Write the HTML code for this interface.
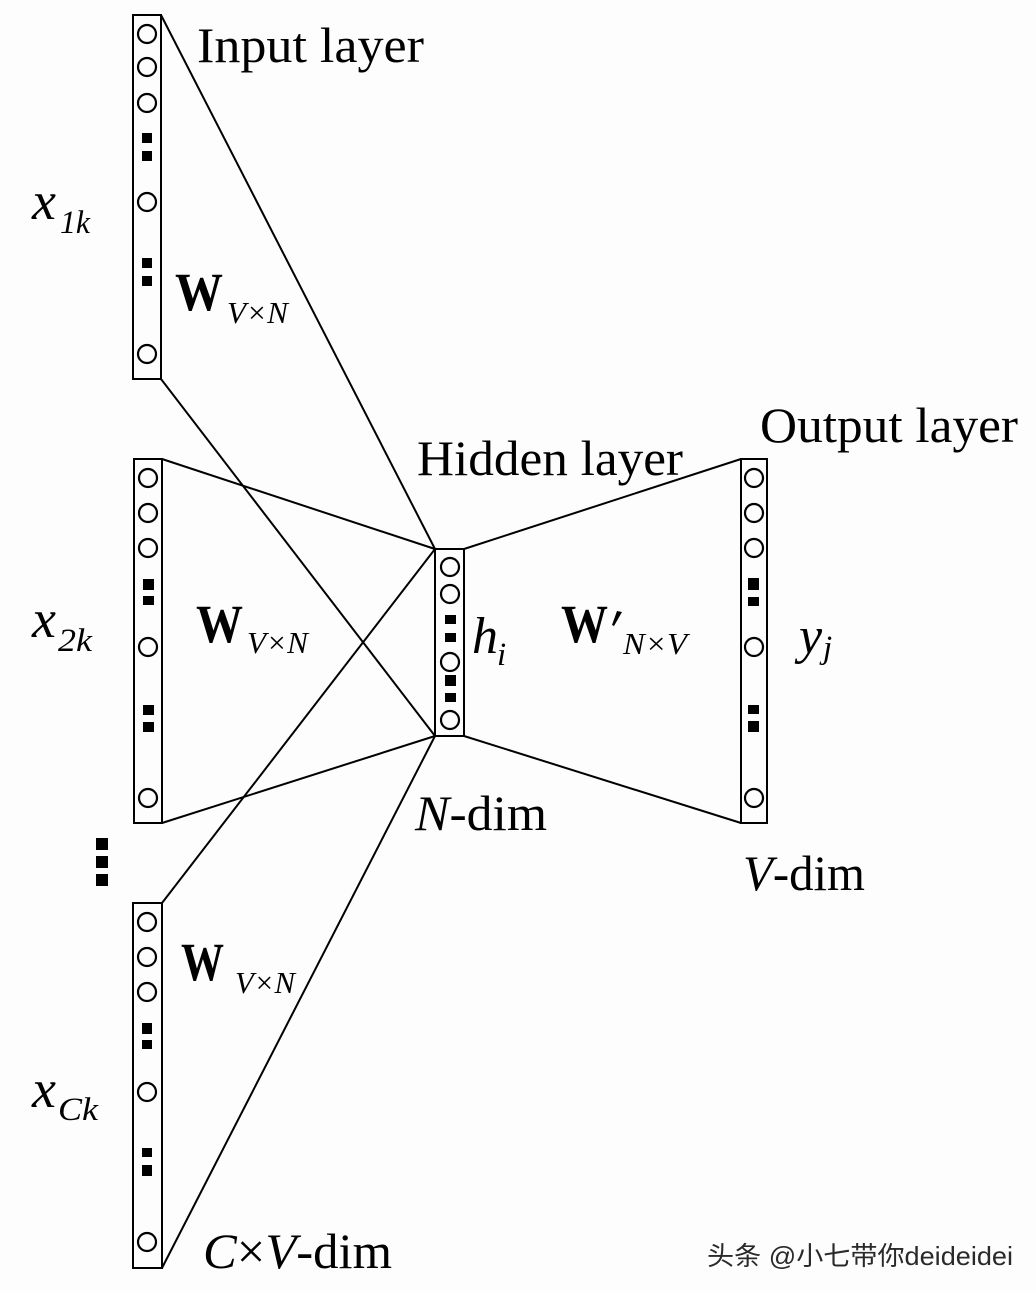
<!DOCTYPE html>
<html>
<head>
<meta charset="utf-8">
<style>
html,body{margin:0;padding:0;background:#fdfdfd;}
svg{display:block;}
.t{font-family:"Liberation Serif",serif;fill:#000;}
.i{font-style:italic;}
.b{font-weight:bold;}
</style>
</head>
<body>
<svg width="1036" height="1292" viewBox="0 0 1036 1292" xmlns="http://www.w3.org/2000/svg">
<rect x="0" y="0" width="1036" height="1292" fill="#fdfdfd"/>
<g stroke="#000" stroke-width="2" fill="none">
  <rect x="133" y="15" width="28" height="364"/>
  <rect x="134" y="459" width="28" height="364"/>
  <rect x="133" y="903" width="29" height="365"/>
  <rect x="435" y="549" width="29" height="187"/>
  <rect x="741" y="459" width="26" height="364"/>
  <line x1="161" y1="15" x2="435" y2="549"/>
  <line x1="161" y1="379" x2="435" y2="736"/>
  <line x1="162" y1="459" x2="435" y2="549"/>
  <line x1="162" y1="823" x2="435" y2="736"/>
  <line x1="162" y1="903" x2="435" y2="549"/>
  <line x1="162" y1="1268" x2="435" y2="736"/>
  <line x1="464" y1="549" x2="741" y2="459"/>
  <line x1="464" y1="736" x2="741" y2="823"/>
</g>
<g stroke="#000" stroke-width="2.2" fill="none">
  <circle cx="147" cy="34" r="9"/>
  <circle cx="147" cy="67" r="9"/>
  <circle cx="147" cy="103" r="9"/>
  <circle cx="147" cy="202" r="9"/>
  <circle cx="147" cy="354" r="9"/>
  <circle cx="148" cy="478" r="9"/>
  <circle cx="148" cy="513" r="9"/>
  <circle cx="148" cy="548" r="9"/>
  <circle cx="148" cy="647" r="9"/>
  <circle cx="148" cy="798" r="9"/>
  <circle cx="147" cy="922" r="9"/>
  <circle cx="147" cy="957" r="9"/>
  <circle cx="147" cy="992" r="9"/>
  <circle cx="147" cy="1092" r="9"/>
  <circle cx="147" cy="1242" r="9"/>
  <circle cx="450" cy="567" r="9"/>
  <circle cx="450" cy="594" r="9"/>
  <circle cx="450" cy="662" r="9"/>
  <circle cx="450" cy="720" r="9"/>
  <circle cx="754" cy="478" r="9"/>
  <circle cx="754" cy="513" r="9"/>
  <circle cx="754" cy="548" r="9"/>
  <circle cx="754" cy="647" r="9"/>
  <circle cx="754" cy="798" r="9"/>
</g>
<g fill="#000">
  <rect x="142" y="133" width="10" height="10"/>
  <rect x="142" y="151" width="10" height="10"/>
  <rect x="142" y="258" width="10" height="10"/>
  <rect x="142" y="276" width="10" height="10"/>
  <rect x="143" y="579" width="11" height="11"/>
  <rect x="143" y="596" width="11" height="9"/>
  <rect x="143" y="705" width="11" height="10"/>
  <rect x="143" y="722" width="11" height="10"/>
  <rect x="142" y="1023" width="10" height="11"/>
  <rect x="142" y="1040" width="10" height="9"/>
  <rect x="142" y="1148" width="10" height="9"/>
  <rect x="142" y="1165" width="10" height="11"/>
  <rect x="445" y="615" width="11" height="9"/>
  <rect x="445" y="633" width="11" height="9"/>
  <rect x="445" y="675" width="11" height="11"/>
  <rect x="445" y="693" width="11" height="9"/>
  <rect x="748" y="578" width="11" height="12"/>
  <rect x="748" y="597" width="11" height="9"/>
  <rect x="748" y="705" width="11" height="9"/>
  <rect x="748" y="721" width="11" height="11"/>
  <rect x="96" y="838" width="12" height="12"/>
  <rect x="96" y="856" width="12" height="12"/>
  <rect x="96" y="874" width="12" height="12"/>
  <path d="M617 611 L622 612 L614 626 L612 625 Z"/>
</g>

<text class="t" x="197" y="62" font-size="50" textLength="227" lengthAdjust="spacingAndGlyphs">Input layer</text>
<text class="t" x="417" y="475" font-size="50" textLength="266" lengthAdjust="spacingAndGlyphs">Hidden layer</text>
<text class="t" x="760" y="442" font-size="50" textLength="258" lengthAdjust="spacingAndGlyphs">Output layer</text>

<text class="t" x="415" y="830" font-size="50" textLength="132" lengthAdjust="spacingAndGlyphs"><tspan class="i">N</tspan>-dim</text>
<text class="t" x="743" y="890" font-size="50" textLength="122" lengthAdjust="spacingAndGlyphs"><tspan class="i">V</tspan>-dim</text>
<text class="t" x="203" y="1268" font-size="50" textLength="189" lengthAdjust="spacingAndGlyphs"><tspan class="i">C</tspan>×<tspan class="i">V</tspan>-dim</text>

<text class="t b" x="175" y="310" font-size="54" textLength="48" lengthAdjust="spacingAndGlyphs">W</text>
<text class="t i" x="227" y="323" font-size="31" textLength="61" lengthAdjust="spacingAndGlyphs">V×N</text>

<text class="t b" x="196" y="642" font-size="54" textLength="47" lengthAdjust="spacingAndGlyphs">W</text>
<text class="t i" x="247" y="653" font-size="31" textLength="61" lengthAdjust="spacingAndGlyphs">V×N</text>

<text class="t b" x="181" y="980" font-size="54" textLength="43" lengthAdjust="spacingAndGlyphs">W</text>
<text class="t i" x="235" y="993" font-size="31" textLength="60" lengthAdjust="spacingAndGlyphs">V×N</text>

<text class="t b" x="561" y="642" font-size="54" textLength="47" lengthAdjust="spacingAndGlyphs">W</text>
<text class="t i" x="623" y="654" font-size="31" textLength="64" lengthAdjust="spacingAndGlyphs">N×V</text>

<text class="t i" x="472" y="653" font-size="52">h</text>
<text class="t i" x="497" y="665" font-size="33">i</text>
<text class="t i" x="799" y="653" font-size="52">y</text>
<text class="t i" x="823" y="658" font-size="33">j</text>

<text class="t i" x="32" y="219" font-size="54">x</text>
<text class="t i" x="60" y="233" font-size="33" textLength="30" lengthAdjust="spacingAndGlyphs">1k</text>
<text class="t i" x="32" y="637" font-size="54">x</text>
<text class="t i" x="58" y="651" font-size="33" textLength="34" lengthAdjust="spacingAndGlyphs">2k</text>
<text class="t i" x="32" y="1107" font-size="54">x</text>
<text class="t i" x="58" y="1120" font-size="33" textLength="40" lengthAdjust="spacingAndGlyphs">Ck</text>

<text x="708" y="1266" font-size="26" fill="#ffffff" font-family="'Liberation Sans','Noto Sans CJK SC',sans-serif" textLength="306" lengthAdjust="spacingAndGlyphs">头条 @小七带你deideidei</text>
<text x="707" y="1265" font-size="26" fill="#2a2a2a" font-family="'Liberation Sans','Noto Sans CJK SC',sans-serif" textLength="306" lengthAdjust="spacingAndGlyphs">头条 @小七带你deideidei</text>
</svg>
</body>
</html>
